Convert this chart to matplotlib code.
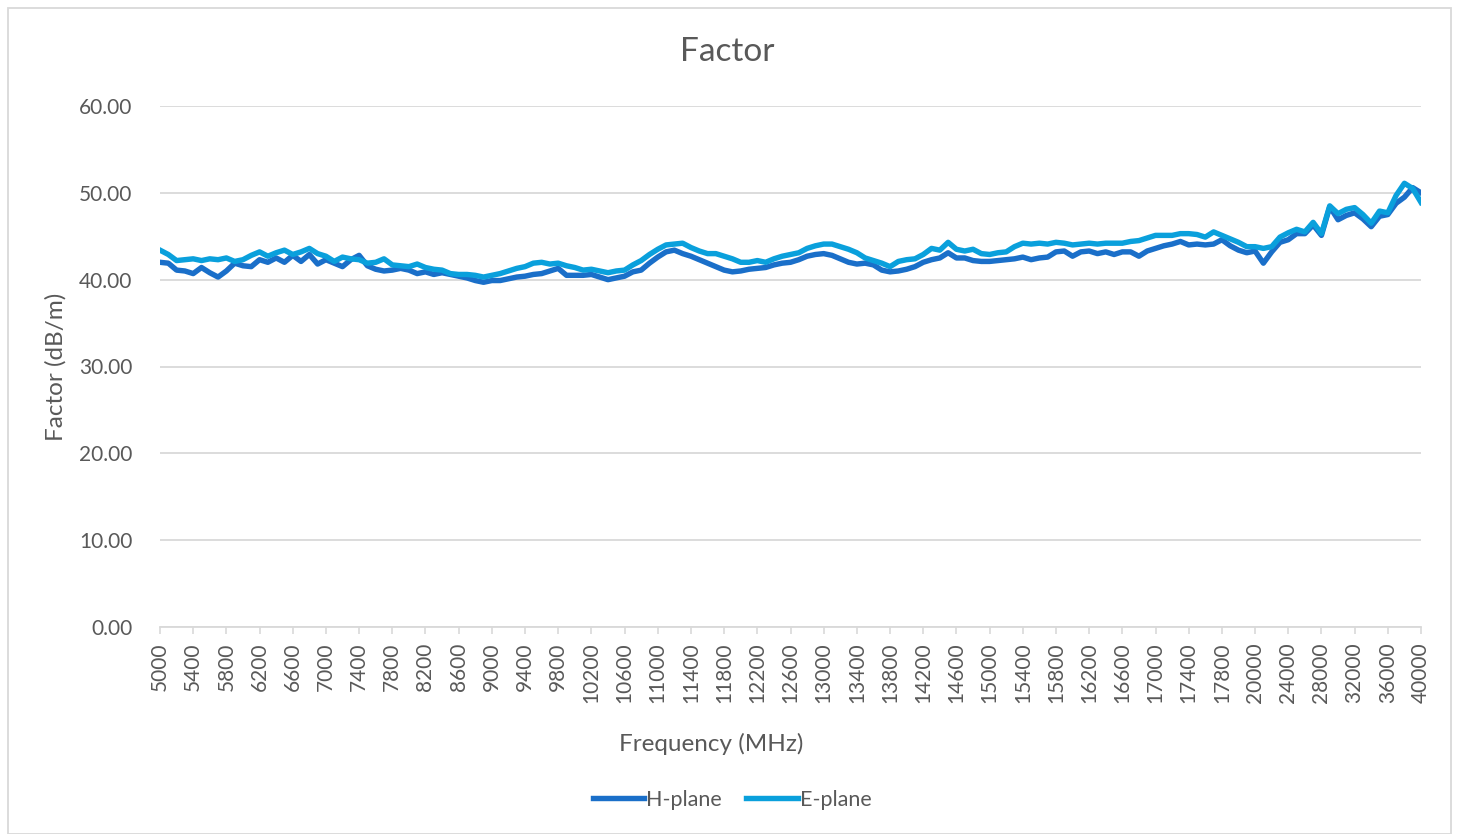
import matplotlib
matplotlib.use("Agg")
import matplotlib.pyplot as plt
from matplotlib.patches import Rectangle

plt.rcParams['font.family'] = ['Lato', 'DejaVu Sans']

# categories: 100 MHz steps up to 18 GHz, then 1 GHz steps
freq = list(range(5000, 18001, 100)) + list(range(19000, 40001, 1000))

h_plane = [
    42.0, 41.9, 41.1, 41.0, 40.7, 41.4, 40.8, 40.3, 41.0, 41.9,
    41.6, 41.5, 42.3, 42.0, 42.5, 42.0, 42.8, 42.1, 42.9, 41.8,
    42.3, 41.9, 41.5, 42.3, 42.8, 41.6, 41.2, 41.0, 41.1, 41.3,
    41.1, 40.7, 40.9, 40.6, 40.8, 40.6, 40.4, 40.2, 39.9, 39.7,
    39.9, 39.9, 40.1, 40.3, 40.4, 40.6, 40.7, 41.0, 41.3, 40.5,
    40.5, 40.5, 40.6, 40.3, 40.0, 40.2, 40.4, 40.9, 41.1, 41.9,
    42.6, 43.2, 43.4, 43.0, 42.7, 42.3, 41.9, 41.5, 41.1, 40.9,
    41.0, 41.2, 41.3, 41.4, 41.7, 41.9, 42.0, 42.3, 42.7, 42.9,
    43.0, 42.8, 42.4, 42.0, 41.8, 41.9, 41.7, 41.1, 40.9, 41.0,
    41.2, 41.5, 42.0, 42.3, 42.5, 43.1, 42.5, 42.5, 42.2, 42.1,
    42.1, 42.2, 42.3, 42.4, 42.6, 42.3, 42.5, 42.6, 43.2, 43.3,
    42.7, 43.2, 43.3, 43.0, 43.2, 42.9, 43.2, 43.2, 42.7, 43.3,
    43.6, 43.9, 44.1, 44.4, 44.0, 44.1, 44.0, 44.1, 44.6, 43.9,
    43.4, 43.1, 43.3, 41.9, 43.2, 44.3, 44.6, 45.3, 45.3, 46.3,
    45.1, 48.4, 46.9, 47.4, 47.7, 47.0, 46.1, 47.3, 47.5, 48.8,
    49.5, 50.6, 50.0,
]

e_plane = [
    43.4, 42.9, 42.2, 42.3, 42.4, 42.2, 42.4, 42.3, 42.5, 42.1,
    42.3, 42.8, 43.2, 42.7, 43.1, 43.4, 42.9, 43.2, 43.6, 43.0,
    42.7, 42.1, 42.6, 42.4, 42.3, 41.9, 42.0, 42.4, 41.7, 41.6,
    41.5, 41.8, 41.4, 41.2, 41.1, 40.7, 40.6, 40.6, 40.5, 40.3,
    40.5, 40.7, 41.0, 41.3, 41.5, 41.9, 42.0, 41.8, 41.9, 41.6,
    41.4, 41.1, 41.2, 41.0, 40.8, 41.0, 41.1, 41.7, 42.2, 42.9,
    43.5, 44.0, 44.1, 44.2, 43.7, 43.3, 43.0, 43.0, 42.7, 42.4,
    42.0, 42.0, 42.2, 42.0, 42.4, 42.7, 42.9, 43.1, 43.6, 43.9,
    44.1, 44.1, 43.8, 43.5, 43.1, 42.5, 42.2, 41.9, 41.5, 42.1,
    42.3, 42.4, 42.9, 43.6, 43.4, 44.3, 43.5, 43.3, 43.5, 43.0,
    42.9, 43.1, 43.2, 43.8, 44.2, 44.1, 44.2, 44.1, 44.3, 44.2,
    44.0, 44.1, 44.2, 44.1, 44.2, 44.2, 44.2, 44.4, 44.5, 44.8,
    45.1, 45.1, 45.1, 45.3, 45.3, 45.2, 44.9, 45.5, 45.1, 44.7,
    44.3, 43.8, 43.8, 43.6, 43.8, 44.9, 45.4, 45.8, 45.5, 46.6,
    45.3, 48.5, 47.6, 48.1, 48.3, 47.5, 46.5, 47.9, 47.7, 49.7,
    51.1, 50.5, 48.9,
]

y_ticks = [0, 10, 20, 30, 40, 50, 60]

gray_text = '#595959'
grid_col = '#d9d9d9'
h_col = '#1a6fc9'
e_col = '#0aa0dc'

fig = plt.figure(figsize=(14.59, 8.34), dpi=100)
ax = fig.add_axes([160 / 1459, 1 - 627 / 834, 1261 / 1459, 521 / 834])

idx = list(range(len(freq)))
ax.plot(idx, h_plane, color=h_col, lw=3.9, label='H-plane', solid_joinstyle='round')
ax.plot(idx, e_plane, color=e_col, lw=3.9, label='E-plane', solid_joinstyle='round')

ax.set_xlim(0, len(freq) - 1)
ax.set_ylim(0, 60)
ax.set_yticks(y_ticks)
ax.set_yticklabels([f'{v:.2f}' for v in y_ticks])
ax.set_xticks(idx[::4])
ax.set_xticklabels([str(f) for f in freq[::4]], rotation=90)

ax.grid(axis='y', color=grid_col, lw=1.3)
ax.set_axisbelow(True)
for s in ['top', 'right', 'left']:
    ax.spines[s].set_visible(False)
ax.spines['bottom'].set_color(grid_col)
ax.spines['bottom'].set_linewidth(1.3)
ax.tick_params(axis='y', length=0, pad=20, labelsize=15, labelcolor=gray_text)
ax.tick_params(axis='x', length=5, width=1.2, color=grid_col, pad=6,
               labelsize=15, labelcolor=gray_text)

fig.text(727 / 1459, 1 - 52 / 834, 'Factor', ha='center', va='center',
         fontsize=24, color=gray_text)
fig.text(711 / 1459, 1 - 744 / 834, 'Frequency (MHz)', ha='center', va='center',
         fontsize=17.5, color=gray_text)
fig.text(56 / 1459, 1 - 367 / 834, 'Factor (dB/m)', ha='center', va='center',
         rotation=90, fontsize=17.5, color=gray_text)

leg = fig.legend(loc='center', bbox_to_anchor=(732 / 1459, 1 - 800 / 834), ncol=2,
                 frameon=False, fontsize=15.5, handlelength=2.4, handletextpad=0.1,
                 columnspacing=1.1)
for t in leg.get_texts():
    t.set_color(gray_text)

fig.patches.append(Rectangle((8 / 1459, 0), 1443 / 1459, 1 - 8 / 834,
                             transform=fig.transFigure, fill=False,
                             edgecolor=grid_col, lw=1.3))

fig.savefig('out.png', dpi=100)
